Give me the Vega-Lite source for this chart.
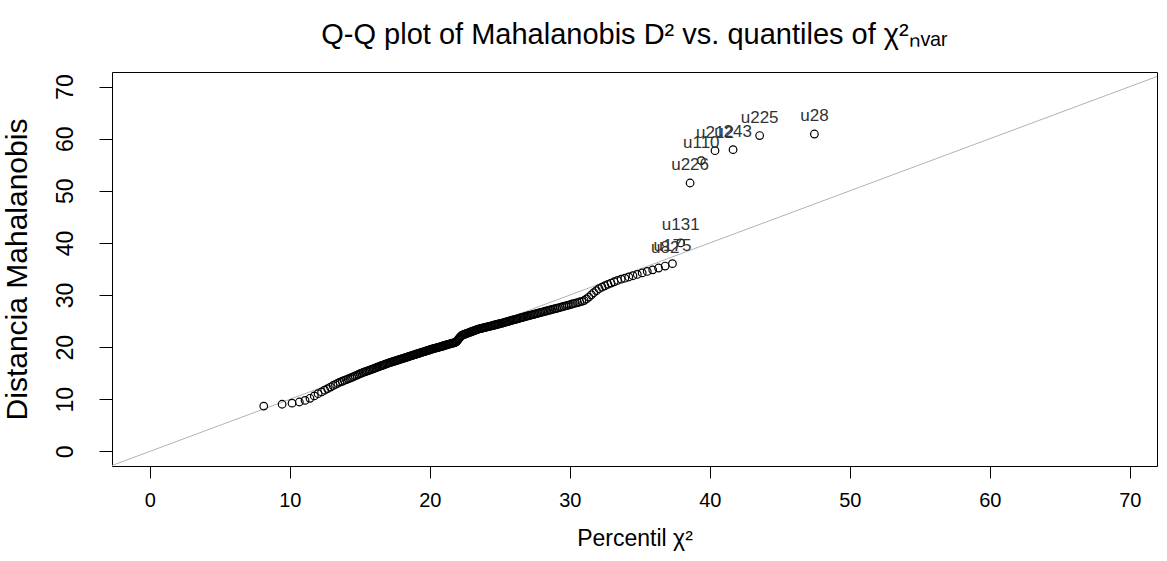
{
"$schema": "https://vega.github.io/schema/vega-lite/v6.json",
"width": 1045, "height": 394,
"autosize": {"type": "none"},
"padding": {"left": 112, "top": 72, "right": 10, "bottom": 95},
"background": "white",
"config": {"font": "Liberation Sans", "view": {"stroke": "black", "strokeWidth": 1}},
"title": {"text": "Q-Q plot of Mahalanobis D² vs. quantiles of χ²ₙᵥₐᵣ", "fontSize": 29, "fontWeight": "normal", "font": "Liberation Sans", "offset": 22, "color": "black", "anchor": "middle"},
"datasets": {
"diag": [{"x": -5, "y": -5}, {"x": 80, "y": 80}],
"pts": [
{"x":8.14,"y":8.69},{"x":9.45,"y":9.05},{"x":10.16,"y":9.26},{"x":10.68,"y":9.48},{"x":11.09,"y":9.79},{"x":11.44,"y":10.19},{"x":11.75,"y":10.65},{"x":12.02,"y":11.07},{"x":12.27,"y":11.42},{"x":12.49,"y":11.74},
{"x":12.70,"y":12.05},{"x":12.90,"y":12.35},{"x":13.09,"y":12.64},{"x":13.26,"y":12.86},{"x":13.43,"y":13.08},{"x":13.59,"y":13.29},{"x":13.75,"y":13.46},{"x":13.89,"y":13.61},{"x":14.04,"y":13.77},{"x":14.17,"y":13.91},
{"x":14.30,"y":14.06},{"x":14.43,"y":14.20},{"x":14.55,"y":14.34},{"x":14.67,"y":14.48},{"x":14.80,"y":14.63},{"x":14.91,"y":14.76},{"x":15.02,"y":14.92},{"x":15.13,"y":15.03},{"x":15.24,"y":15.14},{"x":15.35,"y":15.25},
{"x":15.45,"y":15.35},{"x":15.55,"y":15.45},{"x":15.66,"y":15.56},{"x":15.75,"y":15.65},{"x":15.85,"y":15.75},{"x":15.95,"y":15.85},{"x":16.04,"y":15.94},{"x":16.13,"y":16.03},{"x":16.22,"y":16.12},{"x":16.31,"y":16.21},
{"x":16.40,"y":16.30},{"x":16.49,"y":16.39},{"x":16.58,"y":16.48},{"x":16.66,"y":16.56},{"x":16.75,"y":16.65},{"x":16.83,"y":16.73},{"x":16.91,"y":16.81},{"x":16.99,"y":16.89},{"x":17.08,"y":16.97},{"x":17.16,"y":17.04},
{"x":17.24,"y":17.11},{"x":17.32,"y":17.18},{"x":17.40,"y":17.25},{"x":17.47,"y":17.31},{"x":17.55,"y":17.38},{"x":17.63,"y":17.45},{"x":17.70,"y":17.51},{"x":17.78,"y":17.58},{"x":17.85,"y":17.64},{"x":17.92,"y":17.70},
{"x":18.00,"y":17.77},{"x":18.08,"y":17.84},{"x":18.15,"y":17.90},{"x":18.22,"y":17.96},{"x":18.30,"y":18.03},{"x":18.37,"y":18.09},{"x":18.44,"y":18.15},{"x":18.51,"y":18.21},{"x":18.58,"y":18.27},{"x":18.65,"y":18.33},
{"x":18.72,"y":18.39},{"x":18.79,"y":18.45},{"x":18.86,"y":18.51},{"x":18.93,"y":18.57},{"x":19.00,"y":18.63},{"x":19.06,"y":18.69},{"x":19.13,"y":18.75},{"x":19.20,"y":18.81},{"x":19.27,"y":18.87},{"x":19.34,"y":18.93},
{"x":19.41,"y":18.99},{"x":19.47,"y":19.04},{"x":19.54,"y":19.10},{"x":19.61,"y":19.16},{"x":19.67,"y":19.21},{"x":19.74,"y":19.27},{"x":19.80,"y":19.33},{"x":19.88,"y":19.40},{"x":19.94,"y":19.45},{"x":20.01,"y":19.51},
{"x":20.07,"y":19.55},{"x":20.14,"y":19.61},{"x":20.20,"y":19.66},{"x":20.27,"y":19.71},{"x":20.33,"y":19.76},{"x":20.40,"y":19.81},{"x":20.47,"y":19.87},{"x":20.54,"y":19.92},{"x":20.60,"y":19.97},{"x":20.66,"y":20.01},
{"x":20.73,"y":20.07},{"x":20.79,"y":20.11},{"x":20.86,"y":20.17},{"x":20.93,"y":20.22},{"x":20.99,"y":20.27},{"x":21.06,"y":20.32},{"x":21.12,"y":20.37},{"x":21.19,"y":20.43},{"x":21.25,"y":20.47},{"x":21.32,"y":20.53},
{"x":21.38,"y":20.57},{"x":21.45,"y":20.63},{"x":21.51,"y":20.67},{"x":21.58,"y":20.73},{"x":21.65,"y":20.78},{"x":21.71,"y":20.83},{"x":21.78,"y":20.88},{"x":21.85,"y":20.95},{"x":21.91,"y":21.06},{"x":21.98,"y":21.28},
{"x":22.04,"y":21.54},{"x":22.11,"y":21.76},{"x":22.17,"y":21.97},{"x":22.24,"y":22.14},{"x":22.31,"y":22.31},{"x":22.37,"y":22.37},{"x":22.44,"y":22.44},{"x":22.51,"y":22.51},{"x":22.57,"y":22.57},{"x":22.64,"y":22.64},
{"x":22.71,"y":22.71},{"x":22.78,"y":22.78},{"x":22.84,"y":22.84},{"x":22.91,"y":22.91},{"x":22.98,"y":22.98},{"x":23.05,"y":23.05},{"x":23.12,"y":23.12},{"x":23.19,"y":23.19},{"x":23.26,"y":23.26},{"x":23.33,"y":23.33},
{"x":23.39,"y":23.39},{"x":23.46,"y":23.46},{"x":23.53,"y":23.52},{"x":23.61,"y":23.57},{"x":23.68,"y":23.62},{"x":23.75,"y":23.67},{"x":23.82,"y":23.71},{"x":23.89,"y":23.76},{"x":23.96,"y":23.81},{"x":24.03,"y":23.85},
{"x":24.11,"y":23.91},{"x":24.18,"y":23.95},{"x":24.25,"y":24.00},{"x":24.33,"y":24.05},{"x":24.40,"y":24.10},{"x":24.47,"y":24.15},{"x":24.55,"y":24.20},{"x":24.62,"y":24.25},{"x":24.70,"y":24.30},{"x":24.78,"y":24.35},
{"x":24.85,"y":24.40},{"x":24.93,"y":24.45},{"x":25.00,"y":24.50},{"x":25.09,"y":24.57},{"x":25.17,"y":24.63},{"x":25.24,"y":24.68},{"x":25.32,"y":24.74},{"x":25.40,"y":24.80},{"x":25.48,"y":24.86},{"x":25.56,"y":24.92},
{"x":25.64,"y":24.98},{"x":25.72,"y":25.04},{"x":25.80,"y":25.10},{"x":25.89,"y":25.17},{"x":25.97,"y":25.23},{"x":26.05,"y":25.29},{"x":26.14,"y":25.35},{"x":26.23,"y":25.42},{"x":26.31,"y":25.48},{"x":26.40,"y":25.55},
{"x":26.49,"y":25.62},{"x":26.58,"y":25.68},{"x":26.67,"y":25.75},{"x":26.75,"y":25.81},{"x":26.85,"y":25.89},{"x":26.94,"y":25.95},{"x":27.04,"y":26.03},{"x":27.13,"y":26.09},{"x":27.23,"y":26.16},{"x":27.33,"y":26.23},
{"x":27.43,"y":26.30},{"x":27.53,"y":26.37},{"x":27.63,"y":26.45},{"x":27.73,"y":26.52},{"x":27.83,"y":26.59},{"x":27.93,"y":26.66},{"x":28.04,"y":26.74},{"x":28.14,"y":26.81},{"x":28.25,"y":26.89},{"x":28.36,"y":26.96},
{"x":28.48,"y":27.05},{"x":28.59,"y":27.13},{"x":28.70,"y":27.20},{"x":28.82,"y":27.29},{"x":28.94,"y":27.37},{"x":29.06,"y":27.46},{"x":29.18,"y":27.54},{"x":29.31,"y":27.64},{"x":29.43,"y":27.72},{"x":29.56,"y":27.82},
{"x":29.70,"y":27.92},{"x":29.83,"y":28.02},{"x":29.96,"y":28.12},{"x":30.11,"y":28.23},{"x":30.25,"y":28.34},{"x":30.40,"y":28.45},{"x":30.55,"y":28.56},{"x":30.70,"y":28.67},{"x":30.86,"y":28.79},{"x":31.02,"y":28.95},
{"x":31.19,"y":29.25},{"x":31.36,"y":29.62},{"x":31.54,"y":30.05},{"x":31.71,"y":30.45},{"x":31.90,"y":30.85},{"x":32.09,"y":31.22},{"x":32.30,"y":31.52},{"x":32.50,"y":31.78},{"x":32.72,"y":32.05},{"x":32.94,"y":32.30},
{"x":33.17,"y":32.55},{"x":33.41,"y":32.80},{"x":33.67,"y":33.04},{"x":33.93,"y":33.24},{"x":34.21,"y":33.47},{"x":34.51,"y":33.71},{"x":34.82,"y":33.96},{"x":35.17,"y":34.25},{"x":35.53,"y":34.53},{"x":35.92,"y":34.84},
{"x":36.34,"y":35.19},{"x":36.81,"y":35.56,"label":"u82"},{"x":37.33,"y":36.03,"label":"u175"},{"x":37.92,"y":40.0,"label":"u131"},{"x":38.59,"y":51.5,"label":"u226"},{"x":39.39,"y":55.8,"label":"u110"},{"x":40.37,"y":57.7,"label":"u212"},{"x":41.66,"y":57.9,"label":"u243"},{"x":43.56,"y":60.6,"label":"u225"},{"x":47.47,"y":60.9,"label":"u28"}
]
},
"encoding": {
  "x": {"field": "x", "type": "quantitative",
        "scale": {"domain": [-2.7, 71.94], "nice": false, "zero": false},
        "axis": {"values": [0,10,20,30,40,50,60,70], "format": "d", "title": "Percentil χ²", "grid": false, "domain": false,
                 "tickColor": "black", "tickSize": 12, "labelFontSize": 20, "labelColor": "black", "labelPadding": 12,
                 "titleFontSize": 23, "titleFontWeight": "normal", "titleColor": "black", "titlePadding": 17, "labelFlush": false, "labelOverlap": false}},
  "y": {"field": "y", "type": "quantitative",
        "scale": {"domain": [-2.8, 72.8], "nice": false, "zero": false},
        "axis": {"values": [0,10,20,30,40,50,60,70], "format": "d", "title": "Distancia Mahalanobis", "grid": false, "domain": false,
                 "tickColor": "black", "tickSize": 13, "labelFontSize": 23, "labelColor": "black", "labelAngle": -90, "labelAlign": "center", "labelBaseline": "bottom", "labelPadding": 22,
                 "titleFontSize": 30, "titleFontWeight": "normal", "titleColor": "black", "titlePadding": 22, "labelFlush": false, "labelOverlap": false}}
},
"layer": [
  {"data": {"name": "diag"}, "mark": {"type": "line", "color": "#b3b3b3", "strokeWidth": 1, "clip": true}},
  {"data": {"name": "pts"}, "mark": {"type": "point", "shape": "circle", "filled": false, "color": "black", "size": 58, "strokeWidth": 1.2, "opacity": 1}},
  {"data": {"name": "pts"}, "transform": [{"filter": "datum.label"}],
   "mark": {"type": "text", "fontSize": 17, "dy": -18, "color": "#333333", "baseline": "middle", "align": "center"},
   "encoding": {"text": {"field": "label"}}}
]
}
